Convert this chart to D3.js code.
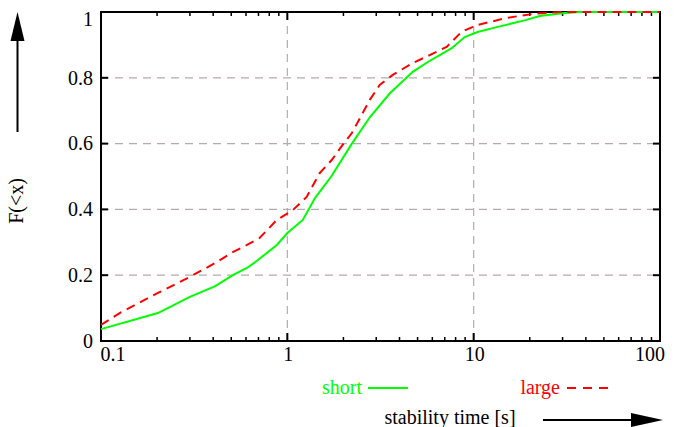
<!DOCTYPE html>
<html>
<head>
<meta charset="utf-8">
<script src="https://cdn.jsdelivr.net/npm/d3@7"></script>
<style>
  body { margin: 0; background: #fff; }
  svg { display: block; }
  text { font-family: "Liberation Serif", "DejaVu Serif", serif; }
</style>
</head>
<body>
<svg id="chart" width="682" height="427"></svg>
<script>
// ---- data ----
const shortX = [0.1, 0.202, 0.30, 0.41, 0.51, 0.607, 0.695, 0.878, 1.0, 1.21, 1.41, 1.72, 2.22, 2.77, 3.55, 4.71, 5.67, 6.57, 7.62, 8.95, 10.5, 13.3, 19.2, 22.6, 30, 37, 100];
const shortF = [0.036, 0.085, 0.134, 0.167, 0.20, 0.222, 0.246, 0.292, 0.328, 0.368, 0.435, 0.50, 0.60, 0.68, 0.753, 0.818, 0.848, 0.869, 0.89, 0.924, 0.939, 0.954, 0.976, 0.988, 0.996, 1.0, 1.0];
const largeX = [0.1, 0.126, 0.202, 0.30, 0.41, 0.51, 0.607, 0.71, 0.878, 1.07, 1.27, 1.49, 1.73, 1.98, 2.22, 2.45, 2.77, 3.13, 3.68, 4.71, 5.81, 7.16, 8.62, 10.4, 15.0, 20.7, 28.9, 100];
const largeF = [0.049, 0.085, 0.146, 0.195, 0.237, 0.27, 0.292, 0.313, 0.368, 0.398, 0.438, 0.51, 0.55, 0.596, 0.632, 0.677, 0.733, 0.778, 0.809, 0.845, 0.869, 0.894, 0.94, 0.96, 0.982, 0.994, 1.0, 1.0];
const xTicks = [0.1, 1, 10, 100];
const xTickLabels = ["0.1", "1", "10", "100"];
const yTicks = [0, 0.2, 0.4, 0.6, 0.8, 1];
const yTickLabels = ["0", "0.2", "0.4", "0.6", "0.8", "1"];
const seriesNames = ["short", "large"];

// ---- layout ----
const L = 101, R = 660, T = 12, B = 341;
const svg = d3.select("#chart");
const x = d3.scaleLog().domain([0.1, 100]).range([L, R]);
const y = d3.scaleLinear().domain([0, 1]).range([B, T]);

const GREEN = "#00ff00", RED = "#ff0000", GRID = "#b4acac";

// grid
const g = svg.append("g");
g.selectAll(".gx").data([1, 10]).enter().append("line")
  .attr("x1", d => x(d)).attr("x2", d => x(d)).attr("y1", T).attr("y2", B)
  .attr("stroke", GRID).attr("stroke-width", 1.2).attr("stroke-dasharray", "8,6");
g.selectAll(".gy").data([0.2, 0.4, 0.6, 0.8]).enter().append("line")
  .attr("x1", L).attr("x2", R).attr("y1", d => y(d)).attr("y2", d => y(d))
  .attr("stroke", GRID).attr("stroke-width", 1.2).attr("stroke-dasharray", "8,6");

// minor x ticks
const minor = [];
[0.1, 1, 10].forEach(dec => { for (let k = 2; k <= 9; k++) minor.push(dec * k); });
const tk = svg.append("g").attr("stroke", "#000").attr("stroke-width", 1.5);
minor.forEach(v => {
  tk.append("line").attr("x1", x(v)).attr("x2", x(v)).attr("y1", B).attr("y2", B - 4);
  tk.append("line").attr("x1", x(v)).attr("x2", x(v)).attr("y1", T).attr("y2", T + 4);
});
xTicks.forEach(v => {
  tk.append("line").attr("x1", x(v)).attr("x2", x(v)).attr("y1", B).attr("y2", B - 8).attr("stroke-width", 2);
  tk.append("line").attr("x1", x(v)).attr("x2", x(v)).attr("y1", T).attr("y2", T + 8).attr("stroke-width", 2);
});
yTicks.forEach(v => {
  tk.append("line").attr("x1", L).attr("x2", L + 7).attr("y1", y(v)).attr("y2", y(v)).attr("stroke-width", 2);
  tk.append("line").attr("x1", R).attr("x2", R - 7).attr("y1", y(v)).attr("y2", y(v)).attr("stroke-width", 2);
});

// border
svg.append("rect").attr("x", L).attr("y", T).attr("width", R - L).attr("height", B - T)
  .attr("fill", "none").attr("stroke", "#000").attr("stroke-width", 2);

// curves
const line = d3.line().x(d => x(d[0])).y(d => y(d[1]));
svg.append("path").datum(shortX.map((v, i) => [v, shortF[i]]))
  .attr("d", line).attr("fill", "none").attr("stroke", GREEN).attr("stroke-width", 2);
svg.append("path").datum(largeX.map((v, i) => [v, largeF[i]]))
  .attr("d", line).attr("fill", "none").attr("stroke", RED).attr("stroke-width", 2)
  .attr("stroke-dasharray", "9,6");

// tick labels
const fs = 20;
svg.selectAll(".xl").data(xTicks).enter().append("text")
  .attr("x", (d, i) => i === 0 ? x(d) + 12 : (i === xTicks.length - 1 ? x(d) - 10 : x(d) + 1))
  .attr("y", 361).attr("text-anchor", "middle").attr("font-size", fs)
  .text((d, i) => xTickLabels[i]);
svg.selectAll(".yl").data(yTicks).enter().append("text")
  .attr("x", 93).attr("y", d => y(d) + (d === 1 ? 7 : 0)).attr("dy", "0.34em")
  .attr("text-anchor", "end").attr("font-size", fs)
  .text((d, i) => yTickLabels[i]);

// y axis label + arrow
svg.append("text").attr("transform", "translate(23,201) rotate(-90)")
  .attr("text-anchor", "middle").attr("font-size", fs).text("F(<x)");
svg.append("line").attr("x1", 17.5).attr("x2", 17.5).attr("y1", 132).attr("y2", 38)
  .attr("stroke", "#000").attr("stroke-width", 2);
svg.append("path").attr("d", "M17.5,12 L10.5,41 L24.5,41 Z").attr("fill", "#000");

// x axis label + arrow
svg.append("text").attr("x", 450).attr("y", 424).attr("text-anchor", "middle")
  .attr("font-size", fs).text("stability time [s]");
svg.append("line").attr("x1", 543).attr("x2", 635).attr("y1", 420).attr("y2", 420)
  .attr("stroke", "#000").attr("stroke-width", 2);
svg.append("path").attr("d", "M663,420 L631,413 L631,427 Z").attr("fill", "#000");

// legend
const leg = [
  { name: seriesNames[0], color: GREEN, dash: null, tx: 362, lx1: 368, lx2: 408 },
  { name: seriesNames[1], color: RED, dash: "9,7", tx: 560, lx1: 567, lx2: 611 }
];
leg.forEach(d => {
  svg.append("text").attr("x", d.tx).attr("y", 394).attr("text-anchor", "end")
    .attr("font-size", fs).attr("fill", d.color).text(d.name);
  svg.append("line").attr("x1", d.lx1).attr("x2", d.lx2).attr("y1", 388).attr("y2", 388)
    .attr("stroke", d.color).attr("stroke-width", 2).attr("stroke-dasharray", d.dash);
});
</script>
</body>
</html>
